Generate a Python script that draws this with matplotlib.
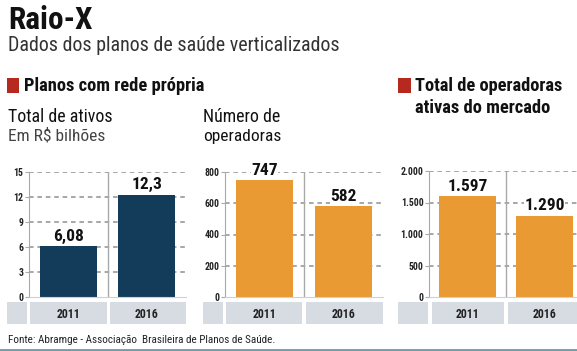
#
# Raio-X: planos de saude verticalizados
#

import matplotlib.pyplot as plt
from matplotlib.patches import Rectangle
from matplotlib.transforms import blended_transform_factory

# dados
anos = ['2011', '2016']
ativos = [6.08, 12.3]
ativos_labels = ['6,08', '12,3']
operadoras = [747, 582]
operadoras_labels = ['747', '582']
mercado = [1597, 1290]
mercado_labels = ['1.597', '1.290']

ticks_ativos = [0, 3, 6, 9, 12, 15]
ticks_operadoras = [0, 200, 400, 600, 800]
ticks_mercado = [0, 500, 1000, 1500, 2000]
ticks_mercado_labels = ['0', '500', '1.000', '1.500', '2.000']

AZUL = '#123c5a'
LARANJA = '#e99a33'
VERMELHO = '#b5291f'
CINZA_FAIXA = '#d6dce1'
CINZA_GRADE = '#8f8f8f'
FONTE = ['Roboto Condensed', 'Liberation Sans Narrow', 'Roboto', 'DejaVu Sans']

W, H = 577, 351
plt.rcParams['font.family'] = FONTE
fig = plt.figure(figsize=(W / 100, H / 100), dpi=100)

# eixo de fundo em pixels, para textos e faixas cinzas
bg = fig.add_axes([0, 0, 1, 1])
bg.set_xlim(0, W)
bg.set_ylim(H, 0)
bg.axis('off')


def px_axes(left, right, top, bottom):
    return fig.add_axes([left / W, 1 - bottom / H, (right - left) / W, (bottom - top) / H])


def texto(x, y, s, largura, **kw):
    # ajusta o tamanho da fonte para a largura (px) medida na imagem
    t = bg.text(x, y, s, va='baseline', ha='left', **kw)
    r = fig.canvas.get_renderer()
    w = t.get_window_extent(r).width
    t.set_fontsize(t.get_fontsize() * largura / w)
    return t


def painel(left, right, top, bottom, valores, labels, ticks, tick_labels, cor, ymax):
    ax = px_axes(left, right, top, bottom)
    ax.set_xlim(-0.5, 1.5)
    ax.set_ylim(0, ymax)
    ax.bar([0, 1], valores, width=0.73, color=cor, zorder=2)
    for t in ticks[1:]:
        ax.axhline(t, color=CINZA_GRADE, lw=1.1, ls=(0, (3, 2.5)), zorder=1)
    ax.axvline(0.5, color='#a9a9a9', lw=1.0, zorder=1)
    for s in ['top', 'right']:
        ax.spines[s].set_visible(False)
    ax.spines['left'].set_color('#a9a9a9')
    ax.spines['bottom'].set_color('#d0d0d0')
    ax.set_yticks(ticks)
    ax.set_yticklabels(tick_labels, fontsize=7, fontweight='bold', color='#222222')
    ax.tick_params(axis='y', length=3, width=0.8, color='#a9a9a9', pad=1)
    ax.set_xticks([])
    ax.patch.set_alpha(0)
    for i, (v, lab) in enumerate(zip(valores, labels)):
        ax.text(i, v + ymax * 0.02, lab, ha='center', va='bottom', fontsize=12.5,
                fontweight='bold', color='#111111', zorder=3,
                bbox=dict(facecolor='white', edgecolor='none', pad=0.3))
    # rótulos de categoria na faixa cinza
    tr = blended_transform_factory(ax.transData, bg.transData)
    for i, ano in enumerate(anos):
        ax.text(i, 314, ano, transform=tr, ha='center', va='center',
                fontsize=8.5, fontweight='bold', color='#222222')
    return ax


# faixas cinzas dos anos
for x0, x1 in [(7, 27), (30, 107), (110, 186),
               (203, 223), (226, 302), (306, 383),
               (398, 428), (432, 504), (508, 577)]:
    bg.add_patch(Rectangle((x0, 302), x1 - x0, 22, color=CINZA_FAIXA, lw=0))

painel(29, 186, 172, 297, ativos, ativos_labels, ticks_ativos,
       [str(t) for t in ticks_ativos], AZUL, 15)
painel(225, 383, 172, 297, operadoras, operadoras_labels, ticks_operadoras,
       [str(t) for t in ticks_operadoras], LARANJA, 800)
painel(429, 583, 171, 297, mercado, mercado_labels, ticks_mercado,
       ticks_mercado_labels, LARANJA, 2000)

# titulos
texto(8, 29, 'Raio-X', 84, fontsize=20, fontweight='heavy', color='#111111')
texto(8, 51, 'Dados dos planos de saúde verticalizados', 332, fontsize=13,
      color='#333333')

bg.add_patch(Rectangle((7, 78), 12, 15, color=VERMELHO, lw=0))
texto(24, 91, 'Planos com rede própria', 180, fontsize=11, fontweight='bold',
      color='#111111')

bg.add_patch(Rectangle((398, 78), 13, 15, color=VERMELHO, lw=0))
texto(415, 91, 'Total de operadoras', 147, fontsize=11, fontweight='bold',
      color='#111111')
texto(415, 113, 'ativas do mercado', 135, fontsize=11, fontweight='bold',
      color='#111111')

texto(8, 122, 'Total de ativos', 104, fontsize=10, color='#111111')
texto(8, 141, 'Em R$ bilhões', 97, fontsize=10, color='#444444')
texto(203, 122, 'Número de', 77, fontsize=10, color='#111111')
texto(203, 141, 'operadoras', 78, fontsize=10, color='#111111')

texto(8, 343, 'Fonte: Abramge - Associação  Brasileira de Planos de Saúde.', 268,
      fontsize=7, color='#222222')
bg.plot([0, W], [349.5, 349.5], color='#6f9ca8', lw=2)

plt.savefig('out.png', dpi=100)
